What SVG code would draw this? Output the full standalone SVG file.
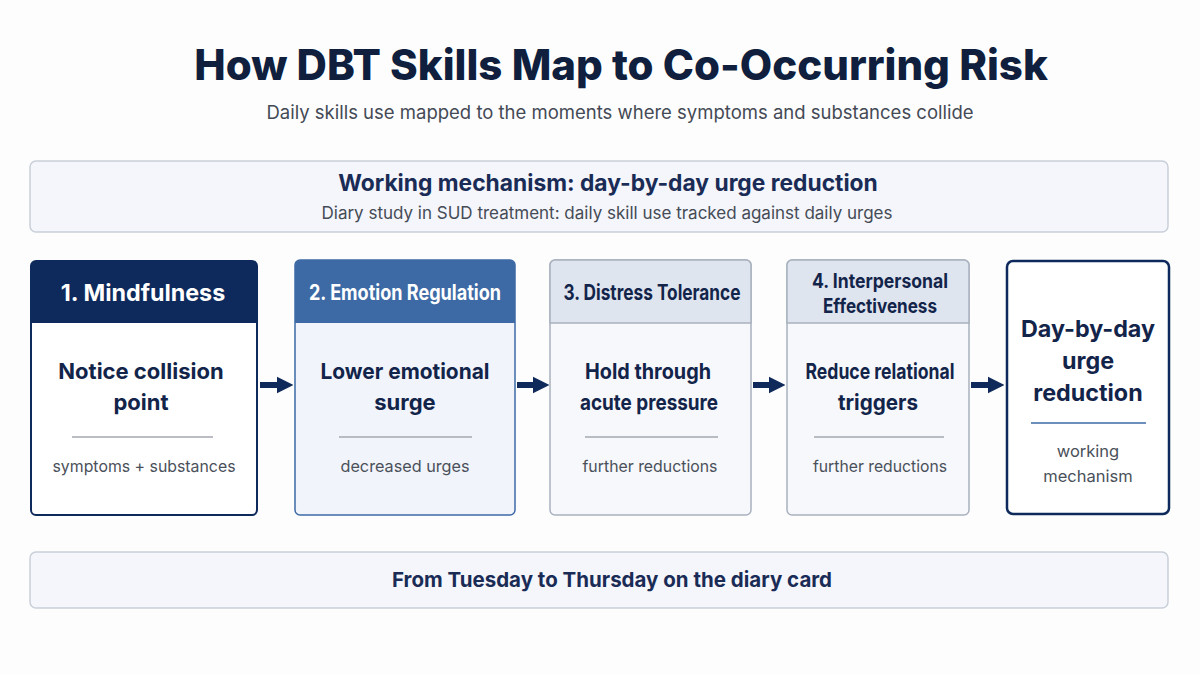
<svg xmlns="http://www.w3.org/2000/svg" width="1200" height="675" viewBox="0 0 1200 675">
<defs>
<style>
text{font-family:Inter,"Liberation Sans",sans-serif;text-anchor:middle}
.t{font-size:42px;font-weight:800;fill:#0f1f3d}
.st{font-size:18.5px;fill:#444a55}
.bt{font-size:22.8px;font-weight:700;fill:#1a2c56}
.bs{font-size:17px;fill:#454b56}
.hd{font-size:21px;font-weight:700}
.body{font-size:22px;font-weight:700;fill:#13244a}
.sub{font-size:16.5px;fill:#4a505a}
.div{stroke:#a3a8b1;stroke-width:1.3}
.banner{fill:#f4f6fb;stroke:#c9cfd9;stroke-width:1.5}
.arrow{stroke:#0f2a5a;stroke-width:6;fill:none}
</style>
<marker id="ah" viewBox="0 0 10 10" refX="2" refY="5" markerWidth="2.8" markerHeight="3.6" orient="auto" markerUnits="strokeWidth">
<path d="M0,0 L10,5 L0,10 z" fill="#0f2a5a"/>
</marker>
</defs>
<rect width="1200" height="675" fill="#fdfdfe"/>
<g id="title">
<text class="t" x="621" y="80">How DBT Skills Map to Co-Occurring Risk</text>
<text class="st" x="620" y="119">Daily skills use mapped to the moments where symptoms and substances collide</text>
</g>
<g id="banner-top">
<rect class="banner" x="30" y="161" width="1138" height="71" rx="6"/>
<text class="bt" x="608" y="191">Working mechanism: day-by-day urge reduction</text>
<text class="bs" x="607" y="219">Diary study in SUD treatment: daily skill use tracked against daily urges</text>
</g>
<g id="card1">
<rect x="31" y="261" width="226" height="254" rx="5" fill="#ffffff" stroke="#0e2a5c" stroke-width="2"/>
<path d="M31,323 V266 a5,5 0 0 1 5,-5 H252 a5,5 0 0 1 5,5 V323 z" fill="#0e2a5c"/>
<text class="hd" x="143" y="301" fill="#ffffff" style="font-size:23.3px">1. Mindfulness</text>
<text class="body" x="141" y="379">Notice collision</text>
<text class="body" x="141" y="410">point</text>
<line class="div" x1="72" y1="437" x2="213" y2="437"/>
<text class="sub" x="144" y="472" textLength="183" lengthAdjust="spacingAndGlyphs">symptoms + substances</text>
</g>
<g id="card2">
<rect x="295" y="260" width="220" height="255" rx="5" fill="#f1f5fb" stroke="#3d6aa5" stroke-width="1.5"/>
<path d="M295,323 V265 a5,5 0 0 1 5,-5 H510 a5,5 0 0 1 5,5 V323 z" fill="#3d6aa5"/>
<text class="hd" x="405" y="300" fill="#ffffff" textLength="192" lengthAdjust="spacingAndGlyphs">2. Emotion Regulation</text>
<text class="body" x="405" y="379" textLength="169" lengthAdjust="spacingAndGlyphs">Lower emotional</text>
<text class="body" x="405" y="410">surge</text>
<line class="div" x1="339" y1="437" x2="472" y2="437"/>
<text class="sub" x="405" y="472" textLength="129" lengthAdjust="spacingAndGlyphs">decreased urges</text>
</g>
<g id="card3">
<rect x="550" y="260" width="201" height="255" rx="5" fill="#f6f8fb" stroke="#a9b1bf" stroke-width="1.5"/>
<path d="M550,323 V265 a5,5 0 0 1 5,-5 H746 a5,5 0 0 1 5,5 V323 z" fill="#dfe5ef" stroke="#a9b1bf" stroke-width="1.5"/>
<text class="hd" x="652" y="300" fill="#13244a" textLength="177" lengthAdjust="spacingAndGlyphs">3. Distress Tolerance</text>
<text class="body" x="648" y="379" textLength="126" lengthAdjust="spacingAndGlyphs">Hold through</text>
<text class="body" x="649" y="410" textLength="138" lengthAdjust="spacingAndGlyphs">acute pressure</text>
<line class="div" x1="585" y1="437" x2="718" y2="437"/>
<text class="sub" x="650" y="472" textLength="135" lengthAdjust="spacingAndGlyphs">further reductions</text>
</g>
<g id="card4">
<rect x="787" y="260" width="182" height="255" rx="5" fill="#f6f8fb" stroke="#a9b1bf" stroke-width="1.5"/>
<path d="M787,323 V265 a5,5 0 0 1 5,-5 H964 a5,5 0 0 1 5,5 V323 z" fill="#dfe5ef" stroke="#a9b1bf" stroke-width="1.5"/>
<text class="hd" x="880" y="288" fill="#13244a" style="font-size:20px" textLength="136" lengthAdjust="spacingAndGlyphs">4. Interpersonal</text>
<text class="hd" x="880" y="313" fill="#13244a" style="font-size:20px" textLength="114" lengthAdjust="spacingAndGlyphs">Effectiveness</text>
<text class="body" x="880" y="379" textLength="149" lengthAdjust="spacingAndGlyphs">Reduce relational</text>
<text class="body" x="878" y="410" textLength="80" lengthAdjust="spacingAndGlyphs">triggers</text>
<line class="div" x1="814" y1="437" x2="944" y2="437"/>
<text class="sub" x="880" y="472" textLength="134" lengthAdjust="spacingAndGlyphs">further reductions</text>
</g>
<g id="card5">
<rect x="1007" y="261" width="162" height="253" rx="6" fill="#ffffff" stroke="#0e2a5c" stroke-width="2.5"/>
<text class="body" x="1088" y="337" style="font-size:23.3px">Day-by-day</text>
<text class="body" x="1088" y="369" style="font-size:23.3px">urge</text>
<text class="body" x="1088" y="401" style="font-size:23.3px">reduction</text>
<line x1="1031" y1="423" x2="1146" y2="423" stroke="#3d6aa5" stroke-width="1.5"/>
<text class="sub" x="1088" y="457">working</text>
<text class="sub" x="1088" y="482">mechanism</text>
</g>
<g id="connectors">
<line class="arrow" x1="260" y1="385" x2="280" y2="385" marker-end="url(#ah)"/>
<line class="arrow" x1="517" y1="385" x2="536" y2="385" marker-end="url(#ah)"/>
<line class="arrow" x1="753" y1="385" x2="772" y2="385" marker-end="url(#ah)"/>
<line class="arrow" x1="971" y1="385" x2="991" y2="385" marker-end="url(#ah)"/>
</g>
<g id="banner-bottom">
<rect class="banner" x="30" y="552" width="1138" height="56" rx="6"/>
<text class="bt" x="612" y="587" style="font-size:20.5px">From Tuesday to Thursday on the diary card</text>
</g>
</svg>
